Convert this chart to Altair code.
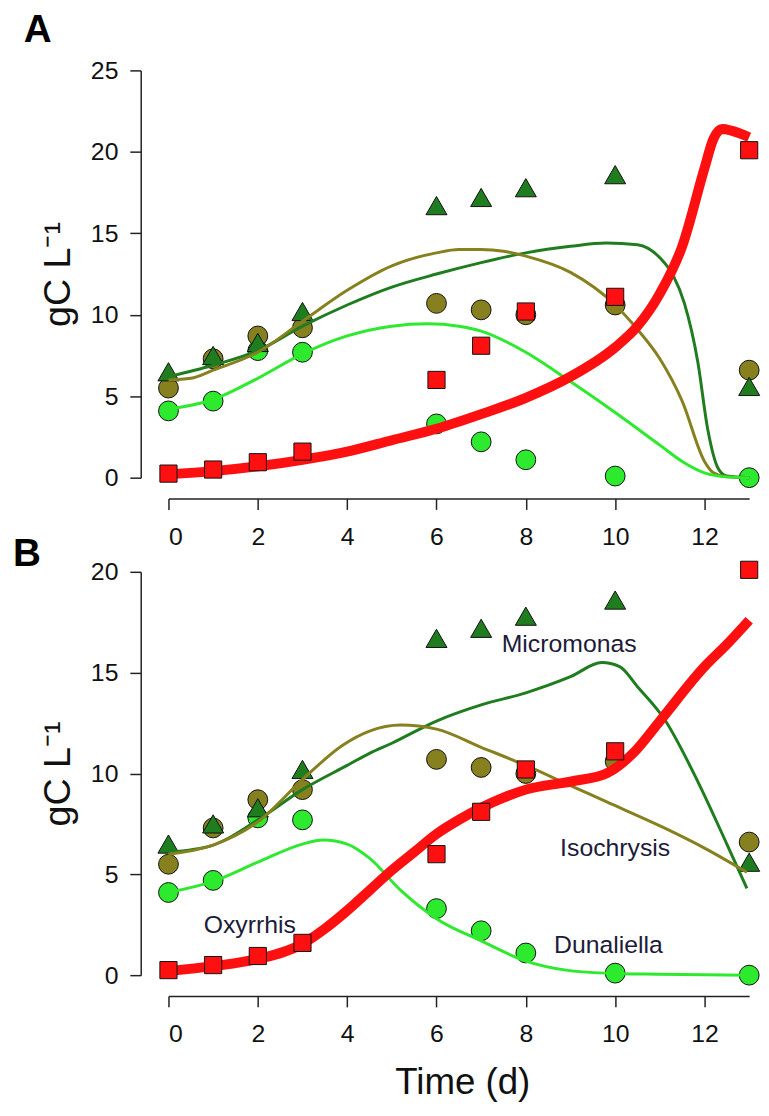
import altair as alt
import pandas as pd

FONT = "Liberation Sans"

# ---------------- observations (same in both panels) ----------------
days = [0, 1, 2, 3, 6, 7, 8, 10, 13]
micromonas_obs = [6.5, 7.5, 8.3, 10.2, 16.7, 17.2, 17.8, 18.6, 5.6]
isochrysis_obs = [5.5, 7.3, 8.7, 9.2, 10.7, 10.3, 10.0, 10.6, 6.6]
dunaliella_obs = [4.1, 4.7, 7.8, 7.7, 3.3, 2.2, 1.1, 0.1, 0.0]
oxyrrhis_obs = [0.25, 0.5, 0.95, 1.6, 6.0, 8.1, 10.2, 11.1, 20.1]

# ---------------- model curves, panel A ----------------
a_micro_t = [0, 1, 2, 3, 4, 5, 6, 7, 8, 9, 9.8, 10.5, 11, 11.3, 11.55, 11.85, 12.07, 12.3, 12.5, 13]
a_micro_v = [6.2, 6.9, 7.8, 9.3, 10.6, 11.7, 12.5, 13.2, 13.8, 14.2, 14.4, 14.3, 13.5, 12.4, 10.7, 7.1, 3.0, 0.6, 0.1, 0.0]
a_iso_t = [0, 0.5, 1, 2, 3, 4, 5, 6, 6.5, 7, 7.5, 8, 9, 10, 10.5, 11, 11.5, 12, 12.2, 12.5, 13]
a_iso_v = [6.0, 6.1, 6.6, 7.7, 9.6, 11.5, 13.0, 13.8, 14.0, 14.0, 13.9, 13.6, 12.6, 10.6, 9.1, 7.3, 4.7, 1.0, 0.3, 0.05, 0.0]
a_dun_t = [0, 1, 2, 3, 4, 5, 5.8, 6.5, 7, 8, 9, 10, 11, 11.5, 12, 12.5, 13]
a_dun_v = [4.2, 4.8, 6.1, 7.6, 8.7, 9.3, 9.45, 9.3, 9.0, 7.7, 5.9, 4.0, 2.0, 1.0, 0.3, 0.05, 0.0]
a_oxy_t = [0, 1, 2, 3, 4, 5, 6, 7, 8, 9, 10, 10.5, 11, 11.5, 12, 12.2, 12.4, 12.6, 13]
a_oxy_v = [0.2, 0.4, 0.7, 1.1, 1.6, 2.3, 3.0, 3.9, 4.9, 6.2, 8.0, 9.3, 11.3, 14.2, 19.0, 20.8, 21.4, 21.3, 20.9]

# ---------------- model curves, panel B ----------------
b_micro_t = [0, 1, 2, 3, 4, 4.5, 5, 6, 7, 8, 9, 9.7, 10.1, 10.5, 11.1, 11.85, 12.5, 12.95]
b_micro_v = [6.1, 6.45, 7.7, 9.2, 10.4, 11.0, 11.5, 12.6, 13.4, 14.0, 14.8, 15.5, 15.3, 14.3, 12.7, 9.6, 6.5, 4.3]
b_iso_t = [0, 1, 2, 3, 3.9, 4.5, 5.2, 6, 7, 8, 9, 9.8, 11.1, 12, 12.95]
b_iso_v = [6.0, 6.45, 7.6, 9.7, 11.4, 12.1, 12.4, 12.2, 11.3, 10.4, 9.4, 8.6, 7.3, 6.3, 5.1]
b_dun_t = [0, 1, 2, 3, 3.46, 4, 4.5, 5.2, 6, 7, 8, 8.9, 9.8, 11, 13]
b_dun_v = [4.1, 4.65, 5.6, 6.5, 6.7, 6.5, 5.8, 4.2, 2.8, 1.7, 0.7, 0.25, 0.1, 0.05, 0.0]
b_oxy_t = [0, 1, 2, 3, 3.5, 4, 4.5, 5, 5.5, 6, 6.5, 7, 7.5, 8, 9, 9.8, 10.4, 11, 12, 12.5, 13]
b_oxy_v = [0.2, 0.45, 0.8, 1.55, 2.3, 3.2, 4.2, 5.2, 6.1, 7.0, 7.7, 8.3, 8.8, 9.2, 9.6, 10.0, 11.0, 12.6, 15.3, 16.4, 17.6]

# ---------------- annotations ----------------
label_names = ["Micromonas", "Isochrysis", "Oxyrrhis", "Dunaliella"]
label_x = [8.97, 10.0, 1.82, 9.85]
label_y = [16.4, 6.3, 2.5, 1.5]
panel_letters = ["A", "B"]
x_title = "Time (d)"
y_title = "gC L⁻¹"
x_ticks = [0, 2, 4, 6, 8, 10, 12]
ya_ticks = [0, 5, 10, 15, 20, 25]
yb_ticks = [0, 5, 10, 15, 20]

C_MICRO = "#1f7d1f"
C_ISO = "#86801e"
C_DUN = "#2eea2e"
C_OXY = "#ff1010"
C_TEXT = "#1c1c3a"

W = 586
HA = 411
HB = 407


def obs_df(vals):
    return pd.DataFrame({"t": days, "v": vals})


def line_df(t, v):
    return pd.DataFrame({"t": t, "v": v})


def panel(ymax, yticks, height, micro, iso, dun, oxy, letter, letter_xy, show_xtitle, labels=None):
    xs = alt.Scale(domain=[0, 13], nice=False, zero=False)
    ys = alt.Scale(domain=[0, ymax], nice=False)
    xax = alt.Axis(values=x_ticks, offset=21, tickSize=11, labelPadding=15,
                   labelFontSize=25, labelFont=FONT, labelColor="#111",
                   domainColor="#222", tickColor="#222", domainWidth=1.5, tickWidth=1.5,
                   grid=False, title=None)
    yax = alt.Axis(values=yticks, offset=28, tickSize=11, labelPadding=12,
                   labelFontSize=25, labelFont=FONT, labelColor="#111",
                   domainColor="#222", tickColor="#222", domainWidth=1.5, tickWidth=1.5,
                   grid=False, title=y_title, titleFont=FONT, titleFontSize=38,
                   titleFontWeight="normal", titleColor="#111", titlePadding=13)
    X = alt.X("t:Q", scale=xs, axis=xax)
    Y = alt.Y("v:Q", scale=ys, axis=yax)

    def pts(vals, shape, color, size):
        return alt.Chart(obs_df(vals)).mark_point(
            shape=shape, filled=True, fill=color, stroke="#111", strokeWidth=1,
            size=size, opacity=1).encode(x=X, y=Y)

    def ln(tv, color, w):
        return alt.Chart(line_df(*tv)).mark_line(
            color=color, strokeWidth=w, interpolate="monotone").encode(x=X, y=Y)

    layers = [
        pts(dunaliella_obs, "circle", C_DUN, 400),
        pts(isochrysis_obs, "circle", C_ISO, 400),
        pts(micromonas_obs, "triangle-up", C_MICRO, 450),
        ln(micro, C_MICRO, 3),
        ln(iso, C_ISO, 3),
        ln(dun, C_DUN, 3),
        ln(oxy, C_OXY, 10),
        pts(oxyrrhis_obs, "square", C_OXY, 300),
    ]
    if labels is not None:
        ldf = pd.DataFrame({"t": label_x, "v": label_y, "name": label_names})
        layers.append(alt.Chart(ldf).mark_text(
            font=FONT, fontSize=25, color=C_TEXT, align="center", baseline="middle"
        ).encode(x=X, y=Y, text="name:N"))
    letter_df = pd.DataFrame({"letter": [letter]})
    layers.append(alt.Chart(letter_df).mark_text(
        font=FONT, fontSize=39, fontWeight="bold", color="#000",
        align="left", baseline="alphabetic"
    ).encode(x=alt.value(letter_xy[0]), y=alt.value(letter_xy[1]), text="letter:N"))
    if show_xtitle:
        tdf = pd.DataFrame({"title": [x_title]})
        layers.append(alt.Chart(tdf).mark_text(
            font=FONT, fontSize=37, color="#111", align="center", baseline="alphabetic"
        ).encode(x=alt.value(W / 2 + 4), y=alt.value(height + 120), text="title:N"))
    return alt.layer(*layers).properties(width=W, height=height)


panel_a = panel(25, ya_ticks, HA, (a_micro_t, a_micro_v), (a_iso_t, a_iso_v),
                (a_dun_t, a_dun_v), (a_oxy_t, a_oxy_v), panel_letters[0], (-146, -29), False)
panel_b = panel(20, yb_ticks, HB, (b_micro_t, b_micro_v), (b_iso_t, b_iso_v),
                (b_dun_t, b_dun_v), (b_oxy_t, b_oxy_v), panel_letters[1], (-157, -6), True,
                labels=True)

chart = alt.vconcat(panel_a, panel_b, spacing=95, bounds="flush").properties(
    padding={"left": 13, "top": 6, "right": 0, "bottom": 0},
    background="white",
).configure_view(strokeWidth=0, stroke=None)

chart.save("out.html", embed_options={"renderer": "svg", "actions": False})
